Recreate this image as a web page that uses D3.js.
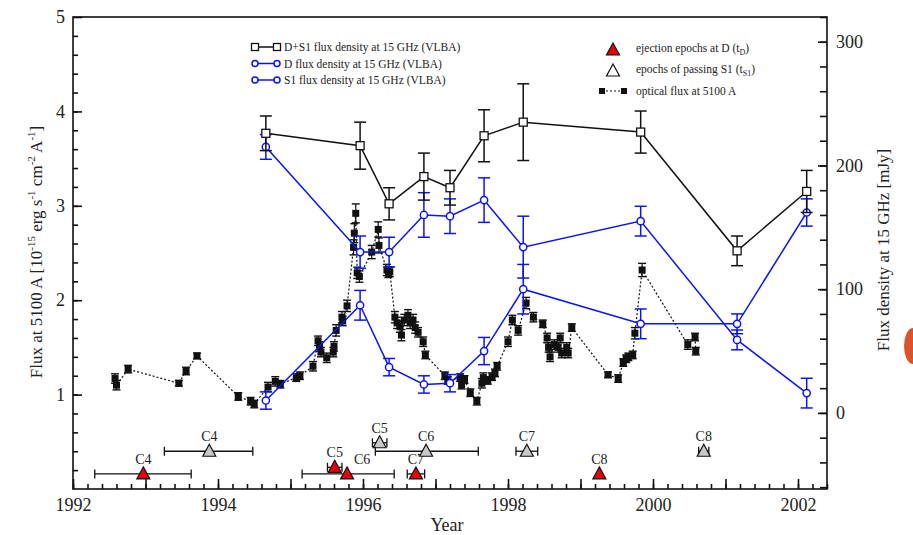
<!DOCTYPE html>
<html><head><meta charset="utf-8">
<script src="https://cdn.jsdelivr.net/npm/d3@7"></script>
<style>
body{margin:0;background:#fff;}
svg{display:block;}
text{font-family:"Liberation Serif","Times New Roman",serif;fill:#222;}
</style></head>
<body>
<svg id="c" width="913" height="535"></svg>
<script>
// ---------- DATA ----------
// Radio epochs (year)
const radioYears = [1994.66, 1995.96, 1996.36, 1996.84, 1997.20, 1997.67, 1998.21, 1999.83, 2001.16, 2002.12];
// D+S1 flux density (mJy) and errors
const totalFlux = [226, 216, 169, 191, 182, 224, 235, 227, 131, 179];
const totalErr  = [14, 19, 13, 19, 14, 21, 31, 17, 12, 17];
// D flux density (mJy) and errors
const dFlux = [215, 130, 130, 160, 159, 172, 134, 155, 59, 16];
const dErr  = [10, 13, 12, 18, 14, 18, 25, 12, 8, 12];
// S1 flux density (mJy) and errors
const s1Flux = [10, 87, 37, 23, 24, 50, 100, 72, 72, 162];
const s1Err  = [7, 12, 7, 7, 7, 11, 20, 12, 8, 11];

// Optical flux at 5100 A (1e-15 erg/s/cm2/A)
const optYears = [1992.58,1992.60,1992.76,1993.46,1993.56,1993.71,1994.28,1994.45,1994.50,1994.69,1994.79,1994.86,
  1995.08,1995.13,1995.31,1995.38,1995.40,1995.42,1995.50,1995.59,1995.60,1995.63,1995.71,1995.72,1995.78,
  1995.87,1995.88,1995.90,1995.92,1995.95,1996.12,1996.21,1996.22,1996.33,1996.35,1996.37,1996.44,1996.47,
  1996.51,1996.53,1996.57,1996.62,1996.65,1996.69,1996.72,1996.76,1996.83,1996.86,1997.13,1997.17,1997.34,
  1997.36,1997.40,1997.48,1997.57,1997.64,1997.66,1997.72,1997.78,1997.82,1997.85,1998.00,1998.06,1998.14,
  1998.25,1998.35,1998.48,1998.54,1998.56,1998.58,1998.64,1998.69,1998.72,1998.74,1998.81,1998.83,1998.88,
  1999.38,1999.52,1999.59,1999.63,1999.66,1999.72,1999.75,1999.85,2000.48,2000.58,2000.59];
const optFlux = [1.17,1.10,1.27,1.12,1.25,1.41,0.98,0.93,0.90,1.08,1.14,1.11,
  1.18,1.20,1.30,1.57,1.51,1.45,1.39,1.45,1.51,1.68,1.82,1.78,1.94,
  2.56,2.71,2.92,2.29,2.25,2.51,2.75,2.58,2.32,2.29,2.30,1.82,1.76,
  1.72,1.63,1.79,1.84,1.76,1.79,1.71,1.66,1.56,1.42,1.20,1.15,1.18,
  1.10,1.16,1.02,0.93,1.12,1.18,1.15,1.19,1.23,1.30,1.56,1.79,1.68,
  1.97,1.82,1.75,1.60,1.50,1.40,1.53,1.50,1.60,1.44,1.50,1.44,1.71,
  1.21,1.17,1.34,1.38,1.40,1.42,1.65,2.32,1.53,1.61,1.46];
const optErr = [0.05,0.05,0.04,0.03,0.04,0.03,0.04,0.04,0.04,0.05,0.05,0.04,
  0.04,0.04,0.05,0.05,0.05,0.05,0.05,0.05,0.05,0.06,0.06,0.05,0.06,
  0.08,0.10,0.10,0.06,0.06,0.07,0.08,0.08,0.06,0.05,0.05,0.06,0.06,
  0.06,0.06,0.06,0.06,0.06,0.06,0.06,0.05,0.05,0.04,0.04,0.04,0.04,
  0.04,0.04,0.04,0.04,0.05,0.05,0.04,0.04,0.04,0.04,0.05,0.05,0.05,
  0.06,0.05,0.04,0.05,0.05,0.05,0.05,0.05,0.05,0.05,0.05,0.05,0.04,
  0.03,0.04,0.04,0.04,0.04,0.04,0.06,0.07,0.05,0.04,0.04];

// Ejection epochs at D (red) : label, year, error range, level on left axis
const ejectLabels = ["C4","C5","C6","C7","C8"];
const ejectYears  = [1992.97, 1995.61, 1995.78, 1996.73, 1999.26];
const ejectLo     = [1992.30, 1995.51, 1995.16, 1996.61, null];
const ejectHi     = [1993.63, 1995.71, 1996.43, 1996.85, null];
const ejectLevel  = [0.16, 0.23, 0.16, 0.16, 0.16];
// Epochs of passing S1 (grey)
const passLabels = ["C4","C5","C6","C7","C8"];
const passYears  = [1993.88, 1996.23, 1996.87, 1998.26, 2000.70];
const passLo     = [1993.26, 1996.13, 1996.17, 1998.11, 2000.63];
const passHi     = [1994.48, 1996.33, 1997.59, 1998.41, 2000.77];
const passLevel  = [0.40, 0.49, 0.40, 0.40, 0.40];

const xTickYears = [1992, 1994, 1996, 1998, 2000, 2002];
const leftTicks  = [1, 2, 3, 4, 5];
const rightTicks = [0, 100, 200, 300];

// ---------- CHART ----------
const svg = d3.select("#c");
const L = 73, R = 827, T = 17, B = 489;
const x  = d3.scaleLinear().domain([1992, 2002.4]).range([L, R]);
const yL = d3.scaleLinear().domain([0, 5]).range([B, T]);
const yR = d3.scaleLinear().domain([-61.5, 320]).range([B, T]);

svg.append("rect").attr("x", L).attr("y", T).attr("width", R - L).attr("height", B - T)
  .attr("fill", "none").attr("stroke", "#111").attr("stroke-width", 1.6);

function styleAxis(g){ g.select(".domain").remove(); g.selectAll("line").attr("stroke","#111").attr("stroke-width",1.6); }

// bottom axis
const minorX = d3.range(1992, 2002.41, 0.2).map(v => +v.toFixed(2));
svg.append("g").attr("transform", `translate(0,${B})`)
  .call(d3.axisBottom(x).tickValues(minorX).tickSize(-5).tickFormat(""))
  .call(styleAxis);
svg.append("g").attr("transform", `translate(0,${B})`)
  .call(d3.axisBottom(x).tickValues(d3.range(1992, 2003, 1)).tickSize(-10).tickPadding(6)
    .tickFormat(d => xTickYears.includes(d) ? String(d) : ""))
  .call(styleAxis)
  .selectAll("text").attr("font-size", 18).attr("fill", "#222")
  .attr("font-family", '"Liberation Serif",serif').attr("dy", "0.9em");

// left axis
svg.append("g").attr("transform", `translate(${L},0)`)
  .call(d3.axisLeft(yL).tickValues(d3.range(0.2, 5, 0.2)).tickSize(-5).tickFormat(""))
  .call(styleAxis);
svg.append("g").attr("transform", `translate(${L},0)`)
  .call(d3.axisLeft(yL).tickValues(leftTicks).tickSize(-9).tickPadding(8).tickFormat(d3.format("d")))
  .call(styleAxis)
  .selectAll("text").attr("font-size", 18).attr("fill", "#222").attr("font-family", '"Liberation Serif",serif');

// right axis
svg.append("g").attr("transform", `translate(${R},0)`)
  .call(d3.axisRight(yR).tickValues(d3.range(-60, 321, 20)).tickSize(-7).tickFormat(""))
  .call(styleAxis);
svg.append("g").attr("transform", `translate(${R},0)`)
  .call(d3.axisRight(yR).tickValues(rightTicks).tickSize(-9).tickPadding(9).tickFormat(d3.format("d")))
  .call(styleAxis)
  .selectAll("text").attr("font-size", 18).attr("fill", "#222").attr("font-family", '"Liberation Serif",serif');

// axis titles
const lt = svg.append("text").attr("transform", "translate(42,252) rotate(-90)")
  .attr("text-anchor", "middle").attr("font-size", 17);
lt.append("tspan").text("Flux at 5100 A [10");
lt.append("tspan").attr("dy", -7).attr("font-size", 11).text("-15");
lt.append("tspan").attr("dy", 7).text(" erg s");
lt.append("tspan").attr("dy", -7).attr("font-size", 11).text("-1");
lt.append("tspan").attr("dy", 7).text(" cm");
lt.append("tspan").attr("dy", -7).attr("font-size", 11).text("-2");
lt.append("tspan").attr("dy", 7).text(" A");
lt.append("tspan").attr("dy", -7).attr("font-size", 11).text("-1");
lt.append("tspan").attr("dy", 7).text("]");

svg.append("text").attr("transform", "translate(889,250) rotate(-90)")
  .attr("text-anchor", "middle").attr("font-size", 17).text("Flux density at 15 GHz [mJy]");
svg.append("text").attr("x", 447).attr("y", 531).attr("text-anchor", "middle")
  .attr("font-size", 18).text("Year");

// ---------- optical series ----------
const opt = optYears.map((t, i) => ({t, f: optFlux[i], e: optErr[i]}));
svg.append("path").datum(opt)
  .attr("d", d3.line().x(d => x(d.t)).y(d => yL(d.f)))
  .attr("fill", "none").attr("stroke", "#111").attr("stroke-width", 1.2).attr("stroke-dasharray", "2,2");
const og = svg.append("g");
opt.forEach(d => {
  const cx = x(d.t), y0 = yL(d.f - d.e), y1 = yL(d.f + d.e);
  og.append("line").attr("x1", cx).attr("x2", cx).attr("y1", y0).attr("y2", y1).attr("stroke", "#111").attr("stroke-width", 1.2);
  og.append("line").attr("x1", cx - 4).attr("x2", cx + 4).attr("y1", y0).attr("y2", y0).attr("stroke", "#111").attr("stroke-width", 1.4);
  og.append("line").attr("x1", cx - 4).attr("x2", cx + 4).attr("y1", y1).attr("y2", y1).attr("stroke", "#111").attr("stroke-width", 1.4);
  og.append("rect").attr("x", cx - 3.5).attr("y", yL(d.f) - 3.5).attr("width", 7).attr("height", 7).attr("fill", "#111");
});

// ---------- radio series ----------
function radioSeries(vals, errs, color, marker){
  const data = radioYears.map((t, i) => ({t, v: vals[i], e: errs[i]}));
  const g = svg.append("g");
  data.forEach(d => {
    const cx = x(d.t), y0 = yR(d.v - d.e), y1 = yR(d.v + d.e);
    g.append("line").attr("x1", cx).attr("x2", cx).attr("y1", y0).attr("y2", y1).attr("stroke", color).attr("stroke-width", 1.5);
    [y0, y1].forEach(yy => g.append("line").attr("x1", cx - 6).attr("x2", cx + 6).attr("y1", yy).attr("y2", yy)
      .attr("stroke", color).attr("stroke-width", 1.5));
  });
  g.append("path").datum(data).attr("d", d3.line().x(d => x(d.t)).y(d => yR(d.v)))
    .attr("fill", "none").attr("stroke", color).attr("stroke-width", 1.5);
  data.forEach(d => {
    if (marker === "square")
      g.append("rect").attr("x", x(d.t) - 4).attr("y", yR(d.v) - 4).attr("width", 8).attr("height", 8)
        .attr("fill", "#fff").attr("stroke", color).attr("stroke-width", 1.3);
    else
      g.append("circle").attr("cx", x(d.t)).attr("cy", yR(d.v)).attr("r", 3.6)
        .attr("fill", "#fff").attr("stroke", color).attr("stroke-width", 1.5);
  });
}
const blue = "#0c14f2";
radioSeries(s1Flux, s1Err, blue, "circle");
radioSeries(dFlux, dErr, blue, "circle");
radioSeries(totalFlux, totalErr, "#111", "square");

// ---------- epochs ----------
function tri(g, cx, cy, fill){
  g.append("path").attr("d", `M${cx},${cy - 7}L${cx + 6.5},${cy + 5}L${cx - 6.5},${cy + 5}Z`)
    .attr("fill", fill).attr("stroke", "#111").attr("stroke-width", 1.2);
}
function epochs(labels, years, lo, hi, level, fill, labelDx){
  const g = svg.append("g");
  years.forEach((t, i) => {
    const cy = yL(level[i]);
    if (lo[i] !== null) {
      g.append("line").attr("x1", x(lo[i])).attr("x2", x(hi[i])).attr("y1", cy).attr("y2", cy).attr("stroke", "#111").attr("stroke-width", 1.3);
      [lo[i], hi[i]].forEach(v => g.append("line").attr("x1", x(v)).attr("x2", x(v)).attr("y1", cy - 4.5).attr("y2", cy + 4.5)
        .attr("stroke", "#111").attr("stroke-width", 1.3));
    }
    tri(g, x(t), cy, fill);
    g.append("text").attr("x", x(t) + labelDx[i]).attr("y", cy - 10)
      .attr("text-anchor", "middle").attr("font-size", 14)
      .attr("font-family", '"Liberation Sans",Arial,sans-serif').text(labels[i]);
  });
}
epochs(ejectLabels, ejectYears, ejectLo, ejectHi, ejectLevel, "#e8000b", [0, 0, 15, 0, 0]);
epochs(passLabels, passYears, passLo, passHi, passLevel, "#c8c8c8", [0, 0, 0, 0, 0]);

// ---------- legends ----------
const lg = svg.append("g").attr("font-size", 11.5);
const leg1 = [
  {label: "D+S1 flux density at 15 GHz (VLBA)", color: "#111", m: "square"},
  {label: "D  flux density at 15 GHz (VLBA)", color: blue, m: "circle"},
  {label: "S1 flux density at 15 GHz (VLBA)", color: blue, m: "circle"}
];
leg1.forEach((d, i) => {
  const yy = 47 + i * 16.5;
  lg.append("line").attr("x1", 255).attr("x2", 277).attr("y1", yy).attr("y2", yy).attr("stroke", d.color).attr("stroke-width", 1.5);
  [255, 277].forEach(xx => {
    if (d.m === "square") lg.append("rect").attr("x", xx - 3.5).attr("y", yy - 3.5).attr("width", 7).attr("height", 7)
      .attr("fill", "#fff").attr("stroke", d.color).attr("stroke-width", 1.3);
    else lg.append("circle").attr("cx", xx).attr("cy", yy).attr("r", 3).attr("fill", "#fff").attr("stroke", d.color).attr("stroke-width", 1.5);
  });
  lg.append("text").attr("x", 284).attr("y", yy + 4).text(d.label);
});
tri(lg, 613, 50, "#e8000b");
tri(lg, 613, 71, "#fff");
const t1 = lg.append("text").attr("x", 636).attr("y", 52);
t1.append("tspan").text("ejection epochs at D (t");
t1.append("tspan").attr("dy", 3).attr("font-size", 8).text("D");
t1.append("tspan").attr("dy", -3).text(")");
const t2 = lg.append("text").attr("x", 636).attr("y", 73);
t2.append("tspan").text("epochs of passing S1 (t");
t2.append("tspan").attr("dy", 3).attr("font-size", 8).text("S1");
t2.append("tspan").attr("dy", -3).text(")");
lg.append("line").attr("x1", 602).attr("x2", 624).attr("y1", 91).attr("y2", 91).attr("stroke", "#111").attr("stroke-width", 1.2).attr("stroke-dasharray", "2,2");
[602, 624].forEach(xx => lg.append("rect").attr("x", xx - 3).attr("y", 88).attr("width", 6).attr("height", 6).attr("fill", "#111"));
lg.append("text").attr("x", 636).attr("y", 95).text("optical flux at 5100 A");

// small orange edge mark seen at the right border
svg.append("path").attr("d", "M913,328 A9,18 0 0 0 913,364 Z").attr("fill", "#d9532b");
</script>
</body></html>
